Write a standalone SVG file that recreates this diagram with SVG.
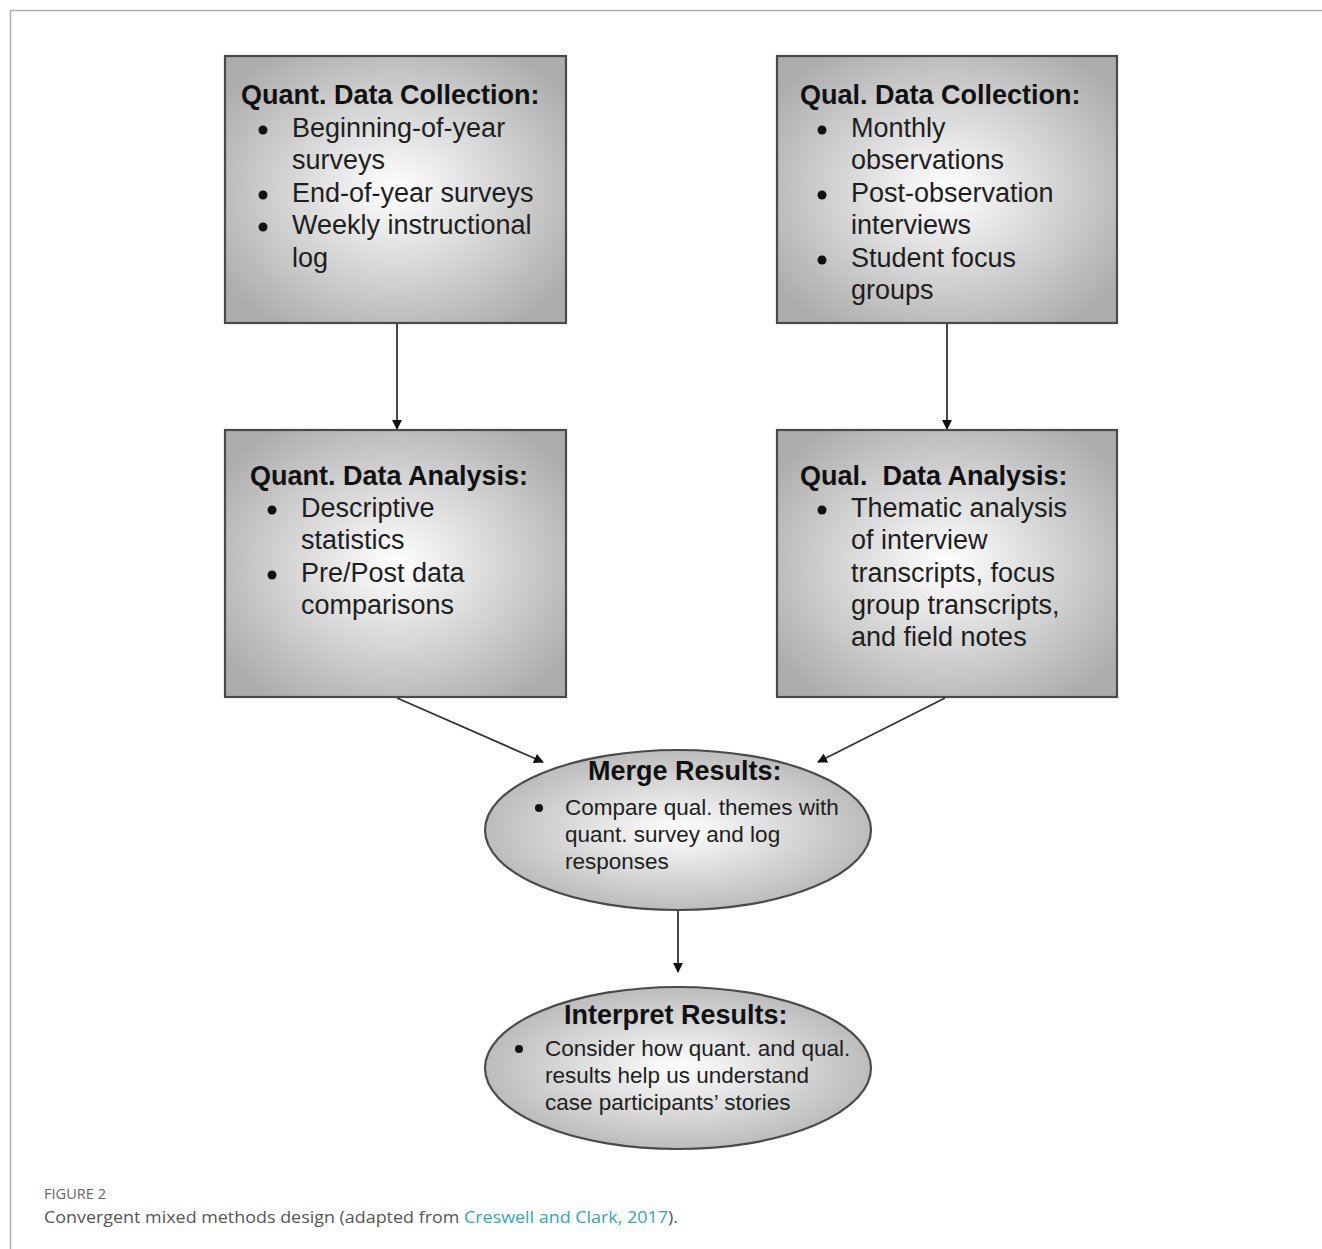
<svg xmlns="http://www.w3.org/2000/svg" width="1322" height="1249" viewBox="0 0 1322 1249">
<style>
.box{stroke:#4a4a4a;stroke-width:2.2;fill:url(#rg)}
.ell{stroke:#4a4a4a;stroke-width:2.2;fill:url(#rg)}
.hd{font-family:"Liberation Sans",Arial,sans-serif;font-weight:bold;font-size:27px;fill:#111}
.tx{font-family:"Liberation Sans",Arial,sans-serif;font-size:27px;fill:#1e1e1e}
.sm{font-family:"Liberation Sans",Arial,sans-serif;font-size:22.5px;fill:#1e1e1e}
.conn{stroke:#333;stroke-width:1.8;fill:none;marker-end:url(#ah)}
</style>
<defs>
<radialGradient id="rg" cx="50%" cy="50%" r="62%">
<stop offset="0" stop-color="#ffffff"/>
<stop offset="1" stop-color="#acacac"/>
</radialGradient>
<marker id="ah" viewBox="0 0 10 10" refX="9" refY="5" markerWidth="5.5" markerHeight="5.5" orient="auto" markerUnits="strokeWidth">
<path d="M0,0 L10,5 L0,10 z" fill="#111"/>
</marker>
</defs>
<rect width="1322" height="1249" fill="#fff"/>
<g id="frame" stroke="#b0b0b0" stroke-width="1.5">
<line x1="10" y1="10.5" x2="1322" y2="10.5"/>
<line x1="10.5" y1="10" x2="10.5" y2="1249"/>
</g>
<g id="connectors">
<line class="conn" x1="397" y1="324" x2="397" y2="429"/>
<line class="conn" x1="947" y1="324" x2="947" y2="429"/>
<line class="conn" x1="397" y1="698" x2="543" y2="762"/>
<line class="conn" x1="945" y1="698" x2="818" y2="762"/>
<line class="conn" x1="678" y1="911" x2="678" y2="972"/>
</g>
<g id="quant-collection">
<rect class="box" x="225" y="56" width="341" height="267"/>
<text class="hd" x="241" y="104">Quant. Data Collection:</text>
<circle cx="263" cy="130" r="4.5" fill="#111"/>
<text class="tx" x="292" y="137">Beginning-of-year</text>
<text class="tx" x="292" y="169">surveys</text>
<circle cx="263" cy="195" r="4.5" fill="#111"/>
<text class="tx" x="292" y="202">End-of-year surveys</text>
<circle cx="263" cy="227" r="4.5" fill="#111"/>
<text class="tx" x="292" y="234">Weekly instructional</text>
<text class="tx" x="292" y="267">log</text>
</g>
<g id="qual-collection">
<rect class="box" x="777" y="56" width="340" height="267"/>
<text class="hd" x="800" y="104">Qual. Data Collection:</text>
<circle cx="822" cy="130" r="4.5" fill="#111"/>
<text class="tx" x="851" y="137">Monthly</text>
<text class="tx" x="851" y="169">observations</text>
<circle cx="822" cy="195" r="4.5" fill="#111"/>
<text class="tx" x="851" y="202">Post-observation</text>
<text class="tx" x="851" y="234">interviews</text>
<circle cx="822" cy="260" r="4.5" fill="#111"/>
<text class="tx" x="851" y="267">Student focus</text>
<text class="tx" x="851" y="299">groups</text>
</g>
<g id="quant-analysis">
<rect class="box" x="225" y="430" width="341" height="267"/>
<text class="hd" x="250" y="485">Quant. Data Analysis:</text>
<circle cx="272" cy="510" r="4.5" fill="#111"/>
<text class="tx" x="301" y="517">Descriptive</text>
<text class="tx" x="301" y="549">statistics</text>
<circle cx="272" cy="575" r="4.5" fill="#111"/>
<text class="tx" x="301" y="582">Pre/Post data</text>
<text class="tx" x="301" y="614">comparisons</text>
</g>
<g id="qual-analysis">
<rect class="box" x="777" y="430" width="340" height="267"/>
<text class="hd" x="800" y="485" xml:space="preserve">Qual.  Data Analysis:</text>
<circle cx="822" cy="510" r="4.5" fill="#111"/>
<text class="tx" x="851" y="517">Thematic analysis</text>
<text class="tx" x="851" y="549">of interview</text>
<text class="tx" x="851" y="582">transcripts, focus</text>
<text class="tx" x="851" y="614">group transcripts,</text>
<text class="tx" x="851" y="646">and field notes</text>
</g>
<g id="merge">
<ellipse class="ell" cx="678" cy="830" rx="193" ry="80"/>
<text class="hd" x="588" y="780">Merge Results:</text>
<circle cx="539" cy="808" r="4" fill="#111"/>
<text class="sm" x="565" y="815">Compare qual. themes with</text>
<text class="sm" x="565" y="842">quant. survey and log</text>
<text class="sm" x="565" y="869">responses</text>
</g>
<g id="interpret">
<ellipse class="ell" cx="678" cy="1068" rx="193" ry="81"/>
<text class="hd" x="564" y="1024">Interpret Results:</text>
<circle cx="519" cy="1049" r="4" fill="#111"/>
<text class="sm" x="545" y="1056">Consider how quant. and qual.</text>
<text class="sm" x="545" y="1083">results help us understand</text>
<text class="sm" x="545" y="1110">case participants’ stories</text>
</g>
<g id="caption">
<text x="44" y="1199" font-family="'Open Sans',sans-serif" font-size="14" fill="#666" textLength="62" lengthAdjust="spacingAndGlyphs">FIGURE 2</text>
<text x="44" y="1223" font-family="'Open Sans',sans-serif" font-size="17" fill="#555" textLength="634" lengthAdjust="spacingAndGlyphs">Convergent mixed methods design (adapted from <tspan fill="#2ea7b9">Creswell and Clark, 2017</tspan>).</text>
</g>
</svg>
